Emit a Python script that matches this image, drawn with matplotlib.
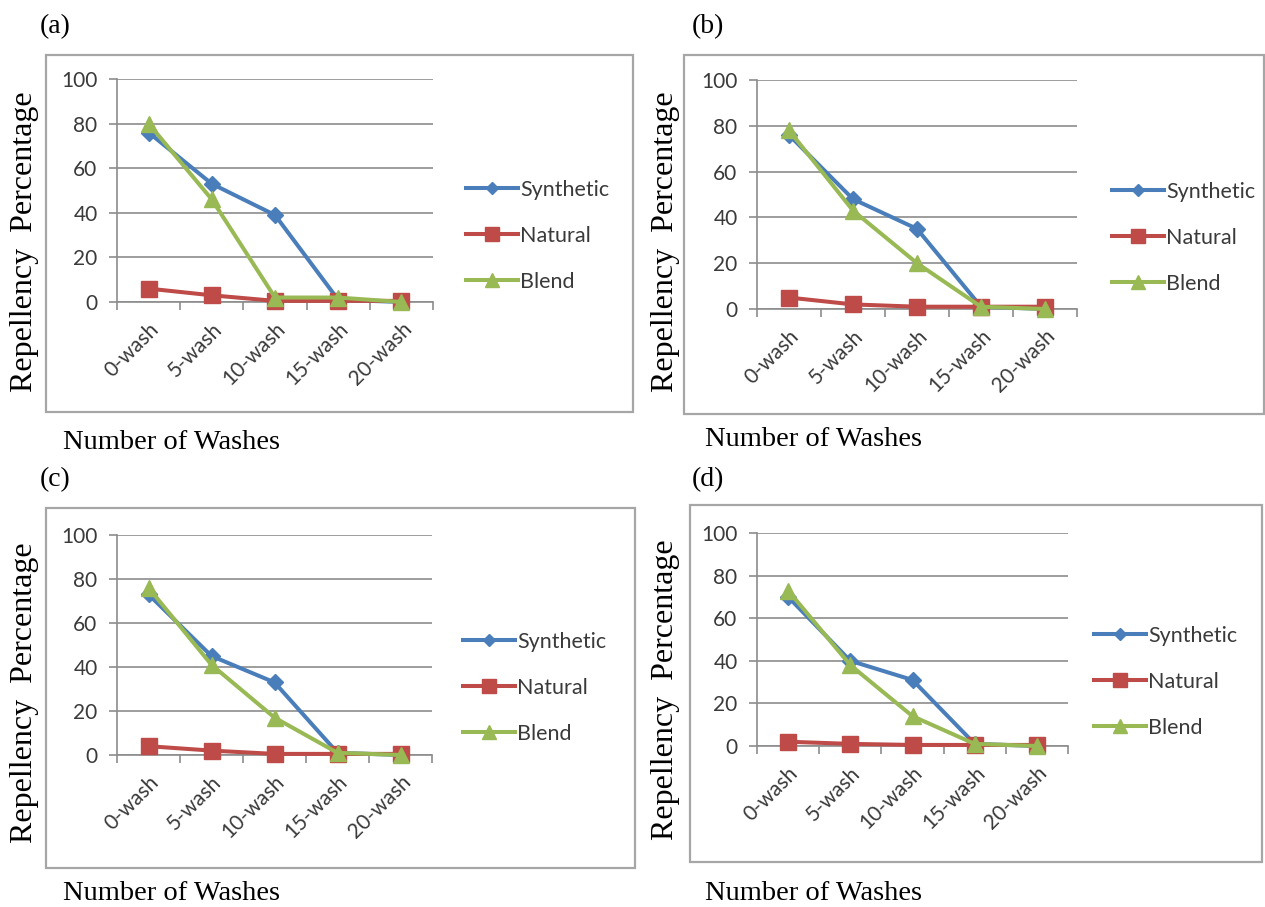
import matplotlib
matplotlib.use('Agg')
import matplotlib.pyplot as plt
from matplotlib.patches import Rectangle
import numpy as np

# data
washes = ['0-wash', '5-wash', '10-wash', '15-wash', '20-wash']
panel_tags = ['(a)', '(b)', '(c)', '(d)']

synthetic_a = [76, 53, 39, 1, 0]
natural_a = [6, 3, 0.5, 0.5, 0.5]
blend_a = [80, 46, 2, 2, 0]

synthetic_b = [76, 48, 35, 1, 0]
natural_b = [5, 2, 1, 1, 1]
blend_b = [78, 43, 20, 1, 0]

synthetic_c = [73, 45, 33, 1, 0]
natural_c = [4, 2, 0.5, 0.5, 0.5]
blend_c = [76, 41, 17, 1, 0]

synthetic_d = [70, 40, 31, 1, 0]
natural_d = [2, 1, 0.5, 0.5, 0.5]
blend_d = [73, 38, 14, 1, 0]

series_names = ['Synthetic', 'Natural', 'Blend']
all_series = [
    [synthetic_a, natural_a, blend_a],
    [synthetic_b, natural_b, blend_b],
    [synthetic_c, natural_c, blend_c],
    [synthetic_d, natural_d, blend_d],
]

W, H = 1265, 907
fig = plt.figure(figsize=(W / 100, H / 100), dpi=100)

# pixel layout of each panel: box, plot area, tag, labels, legend
layout = [
    dict(box=(46, 55, 633, 412), ax=(117, 433, 79, 302), tag=(40, 27), ylab=(25, 242),
         xlab=(63, 442), leg=(466, 190)),
    dict(box=(684, 55, 1264, 414), ax=(757, 1077, 80, 309), tag=(692, 27), ylab=(665, 242),
         xlab=(705, 440), leg=(1112, 192)),
    dict(box=(46, 508, 635, 868), ax=(117, 432, 535, 755), tag=(40, 480), ylab=(25, 693),
         xlab=(63, 893), leg=(463, 642)),
    dict(box=(690, 505, 1262, 862), ax=(757, 1068, 533, 746), tag=(692, 480), ylab=(665, 690),
         xlab=(705, 893), leg=(1094, 636)),
]

colors = ['#4A7EBB', '#BE4B48', '#98B954']
markers = ['D', 's', '^']
msizes = [8, 12, 12]
grid_col = '#8C8C8C'
text_col = '#3A3A3A'
tick_font = 'Lato'
serif = 'Liberation Serif'


def fx(x):
    return x / W


def fy(y):
    return 1 - y / H


x = np.arange(len(washes))

for i, lay in enumerate(layout):
    bx0, by0, bx1, by1 = lay['box']
    fig.patches.append(Rectangle((fx(bx0), fy(by1)), fx(bx1 - bx0), (by1 - by0) / H,
                                 transform=fig.transFigure, fill=False,
                                 edgecolor='#A6A6A6', linewidth=1.6, zorder=0))

    ax0, ax1, ay_top, ay_bot = lay['ax']
    ax = fig.add_axes([fx(ax0), fy(ay_bot), fx(ax1 - ax0), (ay_bot - ay_top) / H])

    lines = []
    for vals, name, c, m, ms in zip(all_series[i], series_names, colors, markers, msizes):
        ln, = ax.plot(x, vals, color=c, marker=m, markersize=ms, linewidth=2.9,
                      markeredgecolor=c, label=name, clip_on=False, zorder=3)
        lines.append(ln)

    ax.set_xlim(-0.5, len(washes) - 0.5)
    ax.set_ylim(0, 100)
    ax.set_yticks(range(0, 101, 20))
    ax.set_xticks(x)
    ax.set_xticklabels(washes, rotation=45, ha='right', rotation_mode='anchor',
                       fontsize=15, color=text_col, family=tick_font)
    ax.set_xticks(np.arange(-0.5, len(washes), 1), minor=True)
    ax.tick_params(axis='x', which='major', length=0, pad=12)
    ax.tick_params(axis='x', which='minor', length=6, color=grid_col, width=1.2)
    ax.tick_params(axis='y', length=6, color=grid_col, width=1.2, pad=8)
    for lbl in ax.get_yticklabels():
        lbl.set_fontsize(15)
        lbl.set_color(text_col)
        lbl.set_family(tick_font)

    ax.grid(axis='y', color=grid_col, linewidth=1.2)
    ax.set_axisbelow(True)
    for s in ['top', 'right']:
        ax.spines[s].set_visible(False)
    ax.spines['left'].set_color(grid_col)
    ax.spines['bottom'].set_color(grid_col)
    ax.spines['left'].set_linewidth(1.2)
    ax.spines['bottom'].set_linewidth(1.2)
    ax.patch.set_alpha(0)

    lx, ly = lay['leg']
    leg = fig.legend(handles=lines, loc='upper left',
                     bbox_to_anchor=(fx(lx), fy(ly - 10)), frameon=False,
                     prop={'family': tick_font, 'size': 15.5}, handlelength=2.4,
                     handletextpad=0.1, labelspacing=1.2, borderaxespad=0,
                     borderpad=0, markerscale=0.8)
    for t in leg.get_texts():
        t.set_color(text_col)

    tx, ty = lay['tag']
    fig.text(fx(tx), fy(ty), panel_tags[i], family=serif, fontsize=20,
             ha='left', va='center')
    yx, yy = lay['ylab']
    fig.text(fx(yx), fy(yy), 'Repellency  Percentage', family=serif, fontsize=23,
             rotation=90, ha='center', va='center')
    xx, xy = lay['xlab']
    fig.text(fx(xx), fy(xy), 'Number of Washes', family=serif, fontsize=20.5,
             ha='left', va='center')

fig.savefig('out.png', dpi=100)
